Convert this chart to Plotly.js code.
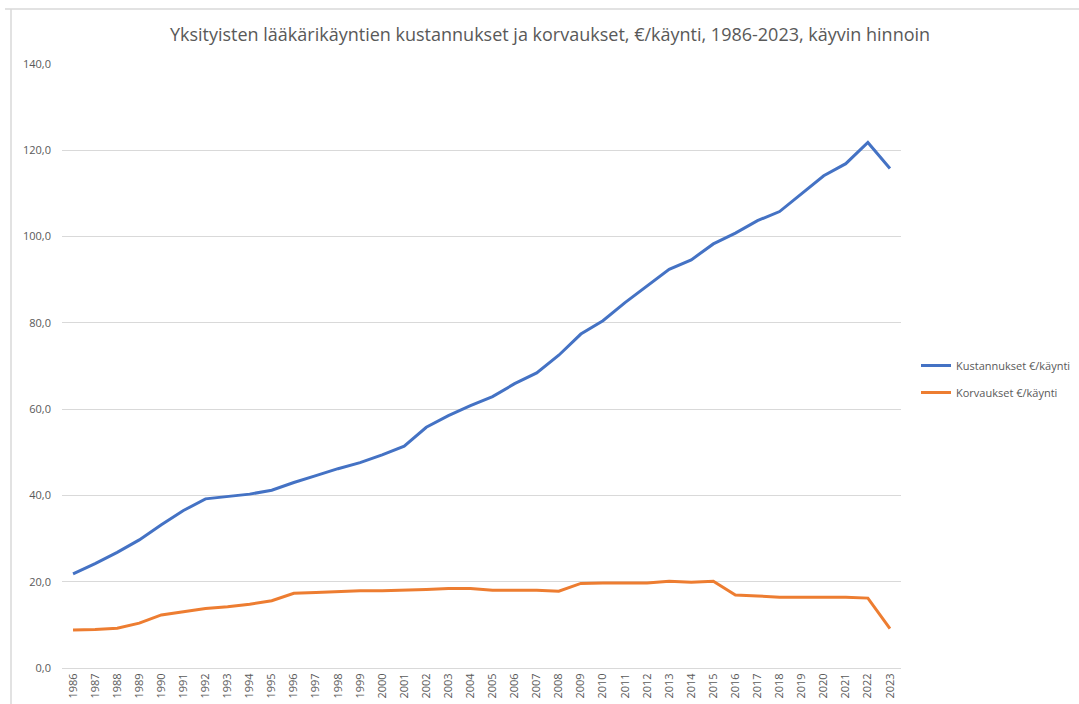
<!DOCTYPE html>
<html>
<head>
<meta charset="utf-8">
<script src="https://cdn.plot.ly/plotly-3.0.1.min.js"></script>
<style>html,body{margin:0;padding:0;background:#fff;}#chart{width:1079px;height:704px;}</style>
</head>
<body>
<div id="chart"></div>
<script>
const years = ["1986","1987","1988","1989","1990","1991","1992","1993","1994","1995","1996","1997","1998","1999","2000","2001","2002","2003","2004","2005","2006","2007","2008","2009","2010","2011","2012","2013","2014","2015","2016","2017","2018","2019","2020","2021","2022","2023"];
const kustannukset = [21.8,24.2,26.8,29.7,33.2,36.5,39.2,39.7,40.3,41.2,43.0,44.6,46.2,47.6,49.4,51.4,55.8,58.5,60.8,62.9,65.9,68.4,72.5,77.4,80.5,84.7,88.6,92.4,94.6,98.3,100.8,103.7,105.8,110.0,114.1,116.9,121.8,115.8];
const korvaukset = [8.8,8.9,9.2,10.4,12.3,13.0,13.8,14.2,14.8,15.6,17.3,17.5,17.7,17.9,17.9,18.0,18.2,18.4,18.4,18.0,18.0,18.0,17.8,19.6,19.7,19.7,19.7,20.1,19.9,20.1,16.9,16.7,16.4,16.4,16.4,16.4,16.2,9.1];
const seriesNames = ["Kustannukset €/käynti","Korvaukset €/käynti"];
const titleText = "Yksityisten lääkärikäyntien kustannukset ja korvaukset, €/käynti, 1986-2023, käyvin hinnoin";

const font = "'Open Sans', 'Noto Sans', sans-serif";
const gray = "#595959";

const traces = [
  {x: years, y: kustannukset, name: seriesNames[0], type: "scatter", mode: "lines",
   line: {color: "#4472C4", width: 3}, legendgroup: "a"},
  {x: years, y: korvaukset, name: seriesNames[1], type: "scatter", mode: "lines",
   line: {color: "#ED7D31", width: 3}, legendgroup: "b"}
];

const L = 62, R = 901, T = 64, B = 668;
const W = R - L, H = B - T;
const px = v => (v - L) / W;
const py = v => (B - v) / H;

const layout = {
  width: 1079, height: 704,
  margin: {l: L, r: 1079 - R, t: T, b: 704 - B, pad: 0, autoexpand: false},
  paper_bgcolor: "#fff", plot_bgcolor: "#fff",
  separators: ",.",
  font: {family: font, color: gray, size: 11},
  title: {text: titleText, font: {family: font, size: 18, color: gray},
          x: 550/1079, xanchor: "center", y: 1 - 35/704, yanchor: "middle"},
  xaxis: {type: "category", range: [-0.5, 37.5], tickangle: -90,
          showgrid: false, showline: true, linecolor: "#d9d9d9", linewidth: 1,
          ticks: "", tickfont: {size: 11, color: gray}, automargin: false, fixedrange: true},
  yaxis: {range: [0, 140], dtick: 20, tick0: 0, tickformat: ".1f",
          showgrid: true, gridcolor: "#d9d9d9", gridwidth: 1, zeroline: false,
          showline: false, ticks: "", ticklen: 0, ticklabelstandoff: 10,
          tickfont: {size: 11, color: gray}, automargin: false, fixedrange: true},
  legend: {xref: "container", yref: "container", x: 916/1079, xanchor: "left",
           y: 1 - 379/704, yanchor: "middle",
           font: {size: 11, color: gray}, tracegroupgap: 8, bgcolor: "rgba(0,0,0,0)"},
  shapes: [
    {type: "line", xref: "paper", yref: "paper", x0: px(5), x1: px(1110), y0: py(9), y1: py(9),
     line: {color: "#d9d9d9", width: 1.5}},
    {type: "line", xref: "paper", yref: "paper", x0: px(11), x1: px(11), y0: py(9), y1: py(720),
     line: {color: "#d9d9d9", width: 1.5}}
  ]
};

Plotly.newPlot("chart", traces, layout, {displayModeBar: false, staticPlot: true});
</script>
</body>
</html>
